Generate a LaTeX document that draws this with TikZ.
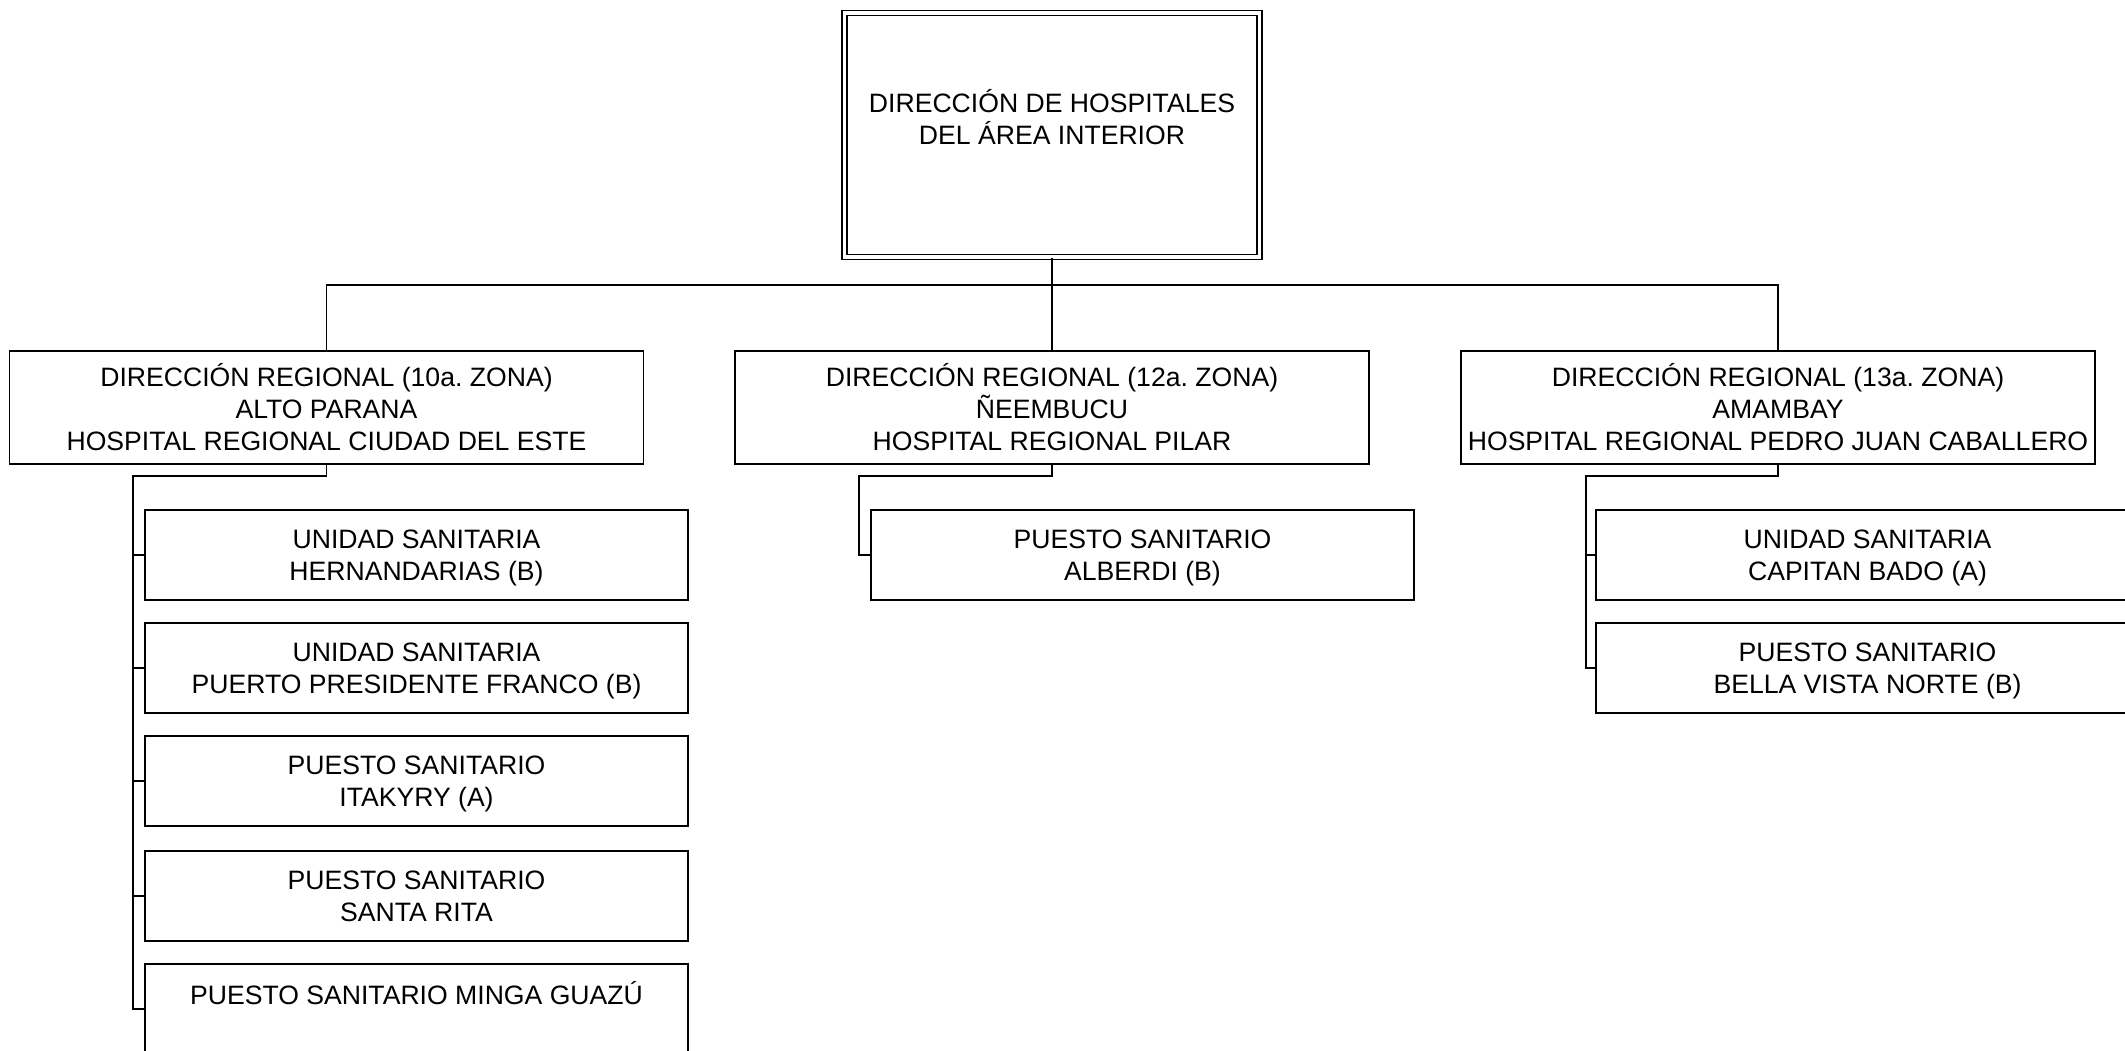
\documentclass[tikz,border=0pt]{standalone}
\usepackage{fontspec}
\setmainfont{Liberation Sans}
\frenchspacing
\begin{document}
\begin{tikzpicture}[x=0.5pt,y=-0.5pt,
  every node/.style={font=\fontsize{13.3}{16}\selectfont, align=center, inner sep=0pt},
  conn/.style={draw=black, line width=0.8pt},
  topbox/.style={draw, line width=0.75pt, double, double distance=1.8pt, minimum width=207.5pt, minimum height=122pt},
  regbox/.style={draw, line width=0.8pt, minimum width=317pt, minimum height=56.5pt},
  unitbox/.style={draw, line width=0.8pt, minimum width=271.5pt, minimum height=45pt, text depth=0pt}
]
\useasboundingbox (0,0) rectangle (2125,1050);
\clip (0,0) rectangle (2125,1050);

% top
\node[topbox] (top) at (1052,135) {};
\node (toptext) at (1052,117) {DIRECCIÓN DE HOSPITALES\\DEL ÁREA INTERIOR};

% regional
\node[regbox] (ra) at (326.5,407.5) {DIRECCIÓN REGIONAL (10a. ZONA)\\ALTO PARANA\\HOSPITAL REGIONAL CIUDAD DEL ESTE};
\node[regbox] (rb) at (1052,407.5) {DIRECCIÓN REGIONAL (12a. ZONA)\\ÑEEMBUCU\\HOSPITAL REGIONAL PILAR};
\node[regbox] (rc) at (1778,407.5) {DIRECCIÓN REGIONAL (13a. ZONA)\\AMAMBAY\\HOSPITAL REGIONAL PEDRO JUAN CABALLERO};

% units left
\node[unitbox] (a1) at (416.5,555) {UNIDAD SANITARIA\\HERNANDARIAS (B)};
\node[unitbox] (a2) at (416.5,668) {UNIDAD SANITARIA\\PUERTO PRESIDENTE FRANCO (B)};
\node[unitbox] (a3) at (416.5,781) {PUESTO SANITARIO\\ITAKYRY (A)};
\node[unitbox] (a4) at (416.5,896) {PUESTO SANITARIO\\SANTA RITA};
\node[unitbox] (a5) at (416.5,1009) {PUESTO SANITARIO MINGA GUAZÚ\\\strut};

% unit middle
\node[unitbox] (b1) at (1142.5,555) {PUESTO SANITARIO\\ALBERDI (B)};

% units right
\node[unitbox] (c1) at (1867.5,555) {UNIDAD SANITARIA\\CAPITAN BADO (A)};
\node[unitbox] (c2) at (1867.5,668) {PUESTO SANITARIO\\BELLA VISTA NORTE (B)};

% connectors top
\coordinate (bus) at (1052,285);
\draw[conn] (top.south) -- (rb.north);
\draw[conn] (ra.north) |- (bus) -| (rc.north);

% left branch
\coordinate (busa) at (133,476);
\draw[conn] (ra.south) |- (busa) -- (busa |- a5.west) -- (a5.west);
\foreach \n in {a1,a2,a3,a4} \draw[conn] (busa |- \n.west) -- (\n.west);

% middle branch
\coordinate (busb) at (859,476);
\draw[conn] (rb.south) |- (busb) -- (busb |- b1.west) -- (b1.west);

% right branch
\coordinate (busc) at (1586,476);
\draw[conn] (rc.south) |- (busc) -- (busc |- c2.west) -- (c2.west);
\draw[conn] (busc |- c1.west) -- (c1.west);
\end{tikzpicture}
\end{document}
